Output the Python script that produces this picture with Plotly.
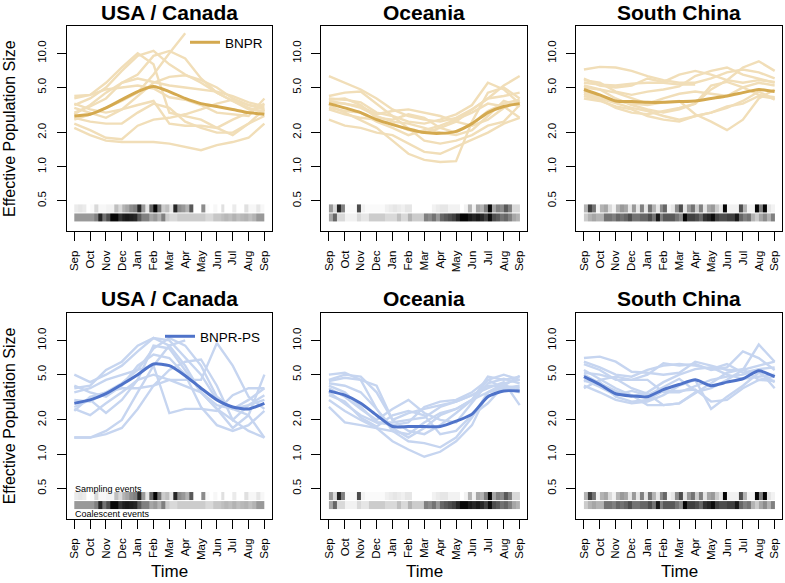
import numpy as np
import plotly.graph_objects as go

months = ["Sep", "Oct", "Nov", "Dec", "Jan", "Feb", "Mar", "Apr", "May", "Jun", "Jul", "Aug", "Sep"]
regions = ["USA / Canada", "Oceania", "South China"]
N = None

# ---------- BNPR (top row) ----------
usa_bnpr_median = [2.8, 2.9, 3.3, 3.9, 4.6, 5.1, 4.6, 4.0, 3.6, 3.4, 3.2, 3.0, 2.9]
usa_bnpr_runs = [
    [2.6, 2.9, 3.3, 3.8, 4.5, 6.5, 10.0, 15.0, N, N, N, N, N],
    [3.5, 4.0, 5.0, 7.0, 9.5, 10.5, 8.0, 6.5, 5.5, 4.5, 3.8, 3.3, 3.0],
    [4.2, 4.3, 5.5, 7.5, 10.0, 8.0, 3.0, 2.8, 2.6, 2.2, 1.9, 2.4, 3.2],
    [2.2, 1.9, 1.7, 1.65, 1.65, 1.65, 1.6, 1.5, 1.4, 1.55, 1.65, 1.8, 2.4],
    [2.4, 2.1, 1.8, 1.75, 2.3, 2.6, 2.7, 2.9, 3.2, 3.6, 3.9, 3.5, 3.3],
    [3.3, 3.0, 2.7, 3.2, 4.2, 5.5, 6.2, 6.4, 5.8, 5.0, 4.0, 3.5, 3.2],
    [2.7, 2.5, 2.4, 2.4, 3.0, 3.6, 3.3, 2.5, 2.2, 2.0, 2.0, 2.4, 2.8],
    [3.0, 3.4, 4.0, 5.5, 6.0, 5.6, 5.2, 5.0, 4.8, 4.6, 4.2, 3.7, 3.4],
    [3.6, 3.2, 3.0, 3.2, 3.5, 3.8, 2.4, 2.3, 2.3, 2.2, 2.6, 3.0, 3.6],
    [2.9, 3.5, 4.5, 5.5, 6.5, 9.5, 10.5, 9.0, 6.0, 4.5, 3.8, 3.2, 3.1],
    [4.0, 4.3, 4.8, 5.0, 5.2, 4.9, 4.1, 3.9, 3.5, 3.0, 2.9, 2.8, 4.0],
]
oce_bnpr_median = [3.6, 3.3, 3.0, 2.6, 2.35, 2.15, 2.0, 1.97, 2.05, 2.4, 3.0, 3.4, 3.6]
oce_bnpr_runs = [
    [6.3, 5.5, 4.8, 4.0, 3.2, 2.8, 2.6, 2.5, 2.7, 3.2, 4.0, 5.2, 6.3],
    [4.2, 4.5, 4.6, 3.6, 2.8, 2.2, 1.7, 1.6, 1.7, 1.9, 2.3, 2.5, 3.5],
    [2.6, 2.3, 2.2, 2.0, 1.9, 1.6, 1.35, 1.3, 1.5, 1.75, 2.0, 2.4, 2.7],
    [3.5, 3.0, 2.6, 2.2, 1.7, 1.3, 1.15, 1.1, 1.12, 2.5, 4.5, 5.0, 4.0],
    [3.8, 3.6, 3.4, 2.9, 3.1, 3.2, 3.0, 2.8, 2.5, 2.3, 2.6, 3.3, 3.8],
    [4.0, 3.9, 3.7, 3.0, 2.8, 2.5, 2.4, 2.6, 2.9, 3.5, 5.5, 4.8, 3.6],
    [3.2, 2.9, 2.7, 2.6, 2.4, 2.1, 2.0, 2.2, 2.5, 3.2, 4.0, 4.2, 4.5],
    [3.3, 3.1, 3.0, 2.5, 2.2, 1.9, 2.1, 2.3, 2.6, 3.0, 3.6, 3.4, 2.7],
    [3.7, 3.6, 3.3, 2.8, 2.5, 2.4, 2.2, 2.0, 1.9, 2.1, 2.8, 3.8, 3.4],
    [3.9, 4.0, 3.5, 2.7, 2.6, 2.9, 2.7, 2.2, 2.0, 2.4, 3.1, 3.6, 3.9],
]
sch_bnpr_median = [4.8, 4.3, 3.8, 3.75, 3.7, 3.7, 3.75, 3.8, 4.0, 4.2, 4.5, 4.8, 4.6]
sch_bnpr_runs = [
    [7.2, 7.6, 7.5, 7.0, 6.3, 5.8, 5.5, 5.5, 6.0, 6.8, 7.2, 6.8, 6.0],
    [6.0, 5.2, 5.0, 5.2, 6.0, 5.6, 6.5, 7.0, 6.5, 5.8, 5.5, 5.8, 5.6],
    [5.5, 5.3, 5.2, 5.4, 5.5, 5.5, 5.3, 5.3, N, N, N, N, N],
    [5.2, 4.8, 4.0, 3.5, 3.2, 3.0, 3.2, 3.6, 4.8, 5.8, 7.5, 8.5, 7.0],
    [4.4, 4.0, 3.6, 3.3, 3.1, 2.8, 2.6, 2.8, 3.0, 3.3, 3.8, 4.6, 3.9],
    [4.0, 3.8, 3.4, 3.2, 2.8, 2.6, 2.5, 2.8, 3.0, 3.4, 3.6, 4.2, 4.0],
    [4.6, 4.2, 3.8, 3.6, 3.5, 3.7, 3.8, 2.9, 2.5, 2.1, 2.6, 4.0, 4.8],
    [5.0, 4.8, 4.5, 4.0, 3.6, 4.0, 4.4, 4.6, 4.4, 4.2, 5.0, 5.5, 5.2],
    [4.2, 3.9, 3.3, 3.0, 2.9, 3.1, 3.3, 3.6, 5.2, 5.6, 5.0, 4.3, 4.1],
    [5.8, 5.5, 4.6, 4.3, 4.6, 4.8, 5.1, 6.3, 7.0, 7.5, 6.5, 6.0, 5.5],
]

# ---------- BNPR-PS (bottom row) ----------
usa_ps_median = [2.8, 3.0, 3.4, 4.1, 5.0, 6.2, 6.0, 4.9, 3.8, 3.0, 2.6, 2.5, 2.8]
usa_ps_runs = [
    [1.4, 1.4, 1.5, 1.7, 2.5, 4.0, 4.5, 4.0, 3.5, 2.7, 2.5, 2.2, 1.4],
    [1.4, 1.4, 1.6, 2.0, 3.5, 6.0, 9.0, 10.0, N, N, N, N, N],
    [5.0, 4.3, 5.0, 6.0, 8.0, 10.5, 9.0, 6.0, 3.5, 2.5, 2.0, 1.6, 1.4],
    [3.8, 4.0, 5.5, 6.5, 9.0, 10.5, 10.0, 7.0, 5.0, 3.0, 2.5, 3.0, 3.8],
    [2.4, 3.2, 3.5, 4.2, 5.5, 8.5, 10.5, 9.0, 6.0, 3.2, 2.5, 2.7, 3.0],
    [3.0, 2.9, 3.5, 3.8, 3.8, 4.0, 5.5, 6.5, 6.8, 4.0, 2.0, 2.7, 3.3],
    [2.6, 3.0, 2.3, 3.0, 4.5, 5.0, 4.5, 4.5, 4.5, 9.5, 6.0, 3.2, 2.5],
    [3.5, 3.8, 4.5, 5.0, 5.5, 6.0, 2.3, 2.5, 2.5, 2.4, 3.3, 3.8, 3.8],
    [4.0, 3.5, 3.2, 4.0, 6.0, 7.5, 7.0, 5.0, 2.6, 1.8, 1.6, 1.8, 2.4],
    [2.5, 2.2, 2.8, 3.5, 4.5, 9.0, 8.5, 5.5, 3.5, 2.5, 1.7, 2.2, 5.0],
]
oce_ps_median = [3.6, 3.3, 2.8, 2.2, 1.75, 1.75, 1.75, 1.75, 1.95, 2.25, 3.2, 3.6, 3.6]
oce_ps_runs = [
    [4.5, 5.0, 4.8, 3.5, 2.0, 1.6, 1.5, 1.8, 2.3, 3.0, 4.8, 4.5, 4.8],
    [5.0, 5.2, 4.5, 2.5, 1.7, 1.4, 1.7, 2.2, 2.5, 3.0, 4.5, 5.0, 4.5],
    [2.6, 1.9, 1.8, 1.7, 1.6, 1.5, 1.9, 2.3, 2.5, 3.0, 3.5, 3.8, 3.5],
    [3.0, 2.4, 2.0, 1.7, 1.3, 1.1, 0.95, 1.05, 1.3, 1.8, 3.5, 4.2, 4.5],
    [4.2, 4.0, 3.5, 2.5, 1.6, 1.3, 1.25, 1.15, 1.4, 2.1, 3.5, 4.0, 3.6],
    [3.8, 3.2, 2.5, 2.0, 2.5, 3.0, 2.3, 2.0, 1.9, 2.8, 4.2, 4.6, 4.2],
    [4.4, 4.7, 4.5, 4.0, 2.0, 2.3, 2.5, 2.7, 2.9, 3.3, 4.0, 4.0, 3.8],
    [3.5, 2.8, 2.2, 1.9, 1.9, 2.0, 2.1, 2.6, 2.9, 3.3, 3.8, 4.3, 2.7],
    [4.0, 3.5, 2.6, 1.9, 1.8, 1.9, 2.6, 2.9, 3.0, 3.5, 4.5, 3.8, 4.0],
    [3.3, 2.9, 2.1, 1.75, 2.2, 2.4, 2.2, 1.5, 1.6, 2.2, 2.8, 4.0, 4.9],
]
sch_ps_median = [4.8, 4.1, 3.4, 3.25, 3.2, 3.7, 4.1, 4.5, 4.0, 4.3, 4.6, 5.4, 4.8]
sch_ps_runs = [
    [7.0, 7.2, 6.5, 5.3, 5.2, 5.0, 5.2, 6.5, 6.0, 5.5, 5.5, 9.2, 6.5],
    [6.2, 5.5, 4.5, 4.5, 5.0, 6.3, 6.0, 6.2, 5.5, 5.8, 8.0, 7.0, 5.5],
    [5.5, 4.6, 3.8, 3.3, 2.7, 2.7, 2.8, 3.5, 3.8, 4.5, 5.5, 6.0, 6.5],
    [4.0, 3.5, 3.0, 2.8, 2.9, 3.3, 4.0, 4.5, 2.5, 3.2, 4.0, 5.2, 4.3],
    [3.8, 4.5, 4.8, 4.5, 4.5, 3.5, 3.5, 4.0, 4.5, 4.8, 5.0, 5.5, 3.8],
    [5.0, 4.2, 3.6, 3.2, 3.5, 4.3, 5.0, 5.6, 5.8, 5.0, 4.6, 4.8, 5.0],
    [4.4, 4.3, 3.2, 2.9, 3.0, 3.6, 3.6, 3.7, 2.9, 3.0, 3.8, 4.5, 4.4],
    [6.5, 5.8, 5.0, 4.8, 5.5, 6.0, 6.2, 6.0, 5.6, 6.2, 5.2, 5.6, 5.8],
    [5.2, 5.0, 4.6, 3.8, 3.4, 2.7, 2.8, 3.4, 4.2, 5.2, 5.6, 4.5, 4.8],
    [4.5, 3.9, 3.3, 3.6, 3.3, 3.9, 4.6, 3.6, N, N, N, N, N],
]

# ---------- event intensity strips (0 = none, 1 = most) ----------
usa_sampling = [0.08, 0.1, 0.08, 0.0, 0.02, 0.15, 0.03, 0.03, 0.05, 0.05, 0.25, 0.15,
                0.3, 0.35, 0.45, 0.5, 0.85, 0.4, 0.1, 0.6, 0.98, 0.55, 0.2, 0.25,
                0.1, 0.85, 0.45, 0.4, 0.3, 0.65, 0.0, 0.0, 0.45, 0.02, 0.0, 0.03,
                0.0, 0.12, 0.0, 0.0, 0.08, 0.0, 0.0, 0.12, 0.03, 0.03, 0.1, 0.03]
usa_coalescent = [0.4, 0.4, 0.4, 0.4, 0.4, 0.5, 0.85, 0.55, 0.7, 0.97, 0.97, 0.8,
                  0.88, 0.9, 0.88, 0.85, 0.65, 0.5, 0.5, 0.35, 0.4, 0.3, 0.5, 0.2,
                  0.15, 0.15, 0.2, 0.2, 0.2, 0.2, 0.2, 0.2, 0.2, 0.15, 0.15, 0.22,
                  0.22, 0.25, 0.28, 0.25, 0.3, 0.25, 0.28, 0.3, 0.25, 0.3, 0.4, 0.4]
oce_sampling = [0.4, 0.15, 0.85, 0.5, 0.02, 0.02, 0.02, 0.7, 0.05, 0.02, 0.02, 0.02,
                0.02, 0.02, 0.06, 0.08, 0.1, 0.08, 0.06, 0.1, 0.1, 0.0, 0.0, 0.0,
                0.0, 0.0, 0.05, 0.08, 0.1, 0.1, 0.05, 0.05, 0.05, 0.0, 0.05, 0.3,
                0.05, 0.35, 0.3, 0.5, 0.97, 0.35, 0.5, 0.45, 0.65, 0.5, 0.15, 0.15]
oce_coalescent = [0.35, 0.6, 0.15, 0.15, 0.05, 0.05, 0.05, 0.15, 0.1, 0.1, 0.2, 0.2,
                  0.2, 0.2, 0.15, 0.15, 0.15, 0.25, 0.15, 0.15, 0.3, 0.2, 0.2, 0.2,
                  0.5, 0.45, 0.55, 0.4, 0.6, 0.65, 0.7, 0.75, 0.85, 0.98, 0.98, 0.9,
                  0.85, 0.9, 0.85, 0.75, 0.95, 0.7, 0.65, 0.55, 0.6, 0.5, 0.35, 0.3]
sch_sampling = [0.3, 0.75, 0.55, 0.05, 0.3, 0.35, 0.15, 0.05, 0.3, 0.4, 0.35, 0.1,
                0.4, 0.1, 0.5, 0.1, 0.55, 0.3, 0.1, 0.45, 0.6, 0.05, 0.1, 0.45,
                0.7, 0.1, 0.4, 0.55, 0.2, 0.5, 0.1, 0.35, 0.4, 0.2, 0.1, 0.98,
                0.05, 0.05, 0.05, 0.7, 0.3, 0.05, 0.05, 0.98, 0.5, 0.98, 0.1, 0.05]
sch_coalescent = [0.2, 0.3, 0.35, 0.3, 0.3, 0.55, 0.55, 0.5, 0.6, 0.55, 0.6, 0.7,
                  0.55, 0.55, 0.6, 0.6, 0.7, 0.55, 0.9, 0.5, 0.65, 0.65, 0.65, 0.55,
                  0.45, 0.98, 0.75, 0.75, 0.7, 0.6, 0.8, 0.85, 0.95, 0.75, 0.7, 0.7,
                  0.75, 0.75, 0.9, 0.6, 0.5, 0.55, 0.3, 0.2, 0.35, 0.45, 0.3, 0.5]

y_tick_vals = [0.5, 1, 2, 5, 10]
y_tick_text = ["0.5", "1.0", "2.0", "5.0", "10.0"]

FONT = "Liberation Sans, Arial, Helvetica, sans-serif"
W, H = 785, 583

top_runs = [usa_bnpr_runs, oce_bnpr_runs, sch_bnpr_runs]
top_meds = [usa_bnpr_median, oce_bnpr_median, sch_bnpr_median]
bot_runs = [usa_ps_runs, oce_ps_runs, sch_ps_runs]
bot_meds = [usa_ps_median, oce_ps_median, sch_ps_median]
samp = [usa_sampling, oce_sampling, sch_sampling]
coal = [usa_coalescent, oce_coalescent, sch_coalescent]

# panel geometry (pixels)
col_px = [(66.7, 272.0), (321.3, 527.3), (576.3, 782.3)]
row_px = [(26.0, 231.0), (313.0, 518.7)]

fig = go.Figure()
x_month = list(range(len(months)))

thin_col = ["#F1DEB8", "#C6D5F0"]
med_col = ["#D4A94F", "#4F73C9"]
names = ["BNPR", "BNPR-PS"]

layout_axes = {}
for r in range(2):
    runs_set = top_runs if r == 0 else bot_runs
    meds_set = top_meds if r == 0 else bot_meds
    for c in range(3):
        k = r * 3 + c + 1
        xa = "x" if k == 1 else f"x{k}"
        ya = "y" if k == 1 else f"y{k}"
        for run in runs_set[c]:
            fig.add_trace(go.Scatter(x=x_month, y=run, mode="lines",
                                     line=dict(color=thin_col[r], width=2.4),
                                     showlegend=False, hoverinfo="skip",
                                     xaxis=xa, yaxis=ya))
        fig.add_trace(go.Scatter(x=x_month, y=meds_set[c], mode="lines",
                                 line=dict(color=med_col[r], width=3, shape="spline", smoothing=0.6),
                                 name=names[r], showlegend=(c == 0),
                                 legend=("legend" if r == 0 else "legend2"),
                                 xaxis=xa, yaxis=ya))
        # event strips
        n = len(samp[c])
        xc = [(i + 0.5) * 12.0 / n for i in range(n)]
        fig.add_trace(go.Heatmap(x=xc, y=[0.355, 0.425], z=[coal[c], samp[c]],
                                 colorscale=[[0, "#ffffff"], [1, "#000000"]],
                                 zmin=0, zmax=1, showscale=False, ygap=1,
                                 hoverinfo="skip", xaxis=xa, yaxis=ya))
        x0, x1 = col_px[c]
        y0, y1 = row_px[r]
        axname_x = "xaxis" if k == 1 else f"xaxis{k}"
        axname_y = "yaxis" if k == 1 else f"yaxis{k}"
        layout_axes[axname_x] = dict(
            domain=[x0 / W, x1 / W], anchor=ya, range=[-0.48, 12.48],
            tickmode="array", tickvals=x_month, ticktext=months, tickangle=-90,
            ticks="outside", ticklen=9, tickwidth=1, tickcolor="black",
            showline=True, mirror=True, linecolor="black", linewidth=1,
            showgrid=False, zeroline=False, ticklabelstandoff=5,
            tickfont=dict(family=FONT, size=11.5, color="black"))
        layout_axes[axname_y] = dict(
            domain=[1 - y1 / H, 1 - y0 / H], anchor=xa, type="log",
            range=[-0.567, 1.241], tickmode="array", tickvals=y_tick_vals,
            ticktext=y_tick_text, tickangle=-90,
            ticks="outside", ticklen=9, tickwidth=1, tickcolor="black",
            showline=True, mirror=True, linecolor="black", linewidth=1,
            showgrid=False, zeroline=False, ticklabelstandoff=6,
            tickfont=dict(family=FONT, size=11.5, color="black"))

annotations = []
for r in range(2):
    y0, y1 = row_px[r]
    for c in range(3):
        x0, x1 = col_px[c]
        annotations.append(dict(text=f"<b>{regions[c]}</b>", x=(x0 + x1) / 2 / W,
                                y=1 - (y0 - 14) / H, xref="paper", yref="paper",
                                showarrow=False, xanchor="center", yanchor="middle",
                                font=dict(family=FONT, size=21, color="black")))
    annotations.append(dict(text="Effective Population Size", x=9.5 / W,
                            y=1 - (y0 + y1) / 2 / H, xref="paper", yref="paper",
                            showarrow=False, textangle=-90, xanchor="center", yanchor="middle",
                            font=dict(family=FONT, size=16, color="black")))
for c in range(3):
    x0, x1 = col_px[c]
    annotations.append(dict(text="Time", x=(x0 + x1) / 2 / W, y=0.0,
                            xref="paper", yref="paper", showarrow=False,
                            xanchor="center", yanchor="bottom",
                            font=dict(family=FONT, size=17, color="black")))
annotations.append(dict(text="Sampling events", x=73 / W, y=1 - 488.5 / H,
                        xref="paper", yref="paper", showarrow=False,
                        xanchor="left", yanchor="middle",
                        font=dict(family=FONT, size=9, color="black")))
annotations.append(dict(text="Coalescent events", x=73 / W, y=1 - 513.5 / H,
                        xref="paper", yref="paper", showarrow=False,
                        xanchor="left", yanchor="middle",
                        font=dict(family=FONT, size=9, color="black")))

fig.update_layout(
    width=W, height=H, margin=dict(l=0, r=0, t=0, b=0),
    paper_bgcolor="white", plot_bgcolor="white",
    font=dict(family=FONT, color="black"),
    annotations=annotations,
    legend=dict(x=185 / W, y=1 - 27 / H, xanchor="left", yanchor="top",
                bgcolor="rgba(0,0,0,0)", font=dict(family=FONT, size=13.5)),
    legend2=dict(x=160 / W, y=1 - 321 / H, xanchor="left", yanchor="top",
                 bgcolor="rgba(0,0,0,0)", font=dict(family=FONT, size=13.5)),
    **layout_axes,
)

fig.write_html("out.html", config={"displayModeBar": False},
               post_script="document.body.style.margin='0px';document.body.style.overflow='hidden';")
